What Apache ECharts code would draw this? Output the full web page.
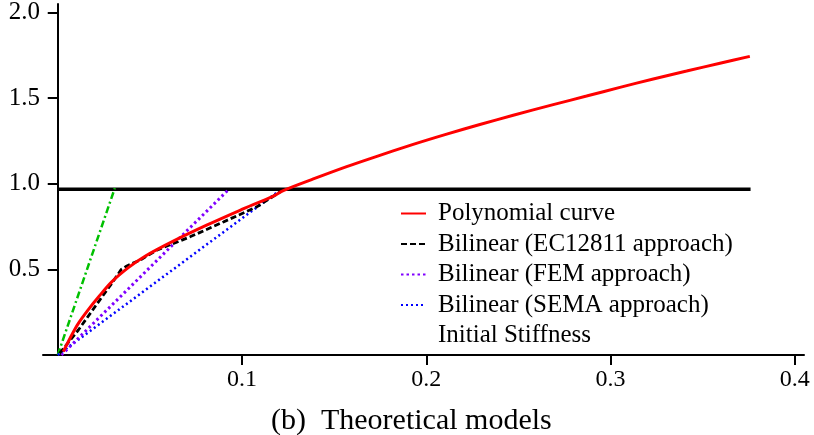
<!DOCTYPE html>
<html>
<head>
<meta charset="utf-8">
<script src="https://cdn.jsdelivr.net/npm/echarts@6/dist/echarts.min.js"></script>
<style>html,body{margin:0;padding:0;background:#fff}#c{width:814px;height:435px}</style>
</head>
<body>
<div id="c"></div>
<script>
const xTickValues = [0.1, 0.2, 0.3, 0.4];
const yTickValues = [0.5, 1.0, 1.5, 2.0];
const legendNames = ['Polynomial curve', 'Bilinear (EC12811 approach)', 'Bilinear (FEM approach)', 'Bilinear (SEMA approach)', 'Initial Stiffness'];
const polynomial = [[0.003,0.02],[0.0076,0.117],[0.0112,0.185],[0.0166,0.265],[0.022,0.337],[0.0293,0.427],[0.0383,0.51],[0.0474,0.577],[0.0627,0.665],[0.0808,0.758],[0.0989,0.845],[0.117,0.928],[0.1224,0.96],[0.1387,1.028],[0.1568,1.1],[0.1712,1.153],[0.1929,1.23],[0.2111,1.29],[0.2291,1.346],[0.2472,1.4],[0.2689,1.462],[0.287,1.512],[0.3051,1.563],[0.3232,1.612],[0.3413,1.658],[0.3594,1.704],[0.3756,1.744]];
const ec12811 = [[0.001,0.01],[0.0112,0.146],[0.0202,0.282],[0.0293,0.418],[0.0345,0.5],[0.0375,0.52],[0.045,0.556],[0.0537,0.612],[0.0718,0.69],[0.0899,0.777],[0.108,0.865],[0.1206,0.952]];
const fem = [[0.002,0.0],[0.0926,0.965]];
const sema = [[0.0,0.0],[0.1197,0.955]];
const initialStiffness = [[0.0,0.0],[0.031,0.975]];
const capacity = [[0.0,0.968],[0.376,0.968]];

const font = 'Liberation Serif';
const chart = echarts.init(document.getElementById('c'), null, {renderer:'canvas'});
function line(name, data, color, width, type, z) {
  return {name, type:'line', data, symbol:'none', z, lineStyle:{color, width, type}, itemStyle:{color}, emphasis:{disabled:true}, animation:false};
}
chart.setOption({
  animation:false,
  title:{text:'(b)  Theoretical models', left:266, top:401, textStyle:{fontFamily:font, fontSize:30, fontWeight:'normal', color:'#000'}},
  grid:{left:43, right:10, top:3, bottom:80},
  legend:{
    orient:'vertical', left:400, top:201, padding:0, itemWidth:25, itemHeight:14, itemGap:5.5,
    itemStyle:{opacity:0},
    textStyle:{fontFamily:font, fontSize:25, color:'#000', lineHeight:25, padding:[0,0,0,7]},
    data:[
      {name:legendNames[0]},
      {name:legendNames[1]},
      {name:legendNames[2]},
      {name:legendNames[3]},
      {name:legendNames[4], itemStyle:{opacity:0}, lineStyle:{opacity:0}}
    ],
    selectedMode:false
  },
  xAxis:{
    type:'value', min:-0.008, max:0.405,
    axisLine:{onZero:true, lineStyle:{color:'#000', width:2}},
    axisTick:{show:true, customValues:xTickValues, length:10, inside:false, lineStyle:{color:'#000', width:2}},
    axisLabel:{customValues:xTickValues, margin:13, fontFamily:font, fontSize:24, color:'#000', formatter:v=>String(v)},
    splitLine:{show:false}
  },
  yAxis:{
    type:'value', min:0, max:2.05,
    axisLine:{show:true, onZero:true, lineStyle:{color:'#000', width:2}},
    axisTick:{show:true, customValues:yTickValues, length:10, lineStyle:{color:'#000', width:2}},
    axisLabel:{customValues:yTickValues, margin:3, fontFamily:font, fontSize:25, color:'#000', formatter:v=>v.toFixed(1)},
    splitLine:{show:false}
  },
  series:[
    line('capacity', capacity, '#000', 3.5, 'solid', 2),
    line(legendNames[4], initialStiffness, '#00c000', 2.5, [7,3,2,3], 3),
    line(legendNames[3], sema, '#0000ff', 2.5, [2,3], 4),
    line(legendNames[2], fem, '#8000ff', 3, [2.5,3], 5),
    line(legendNames[1], ec12811, '#000', 2.8, [6,3], 6),
    Object.assign(line(legendNames[0], polynomial, '#ff0000', 3, 'solid', 7), {smooth:0.3})
  ]
});
</script>
</body>
</html>
